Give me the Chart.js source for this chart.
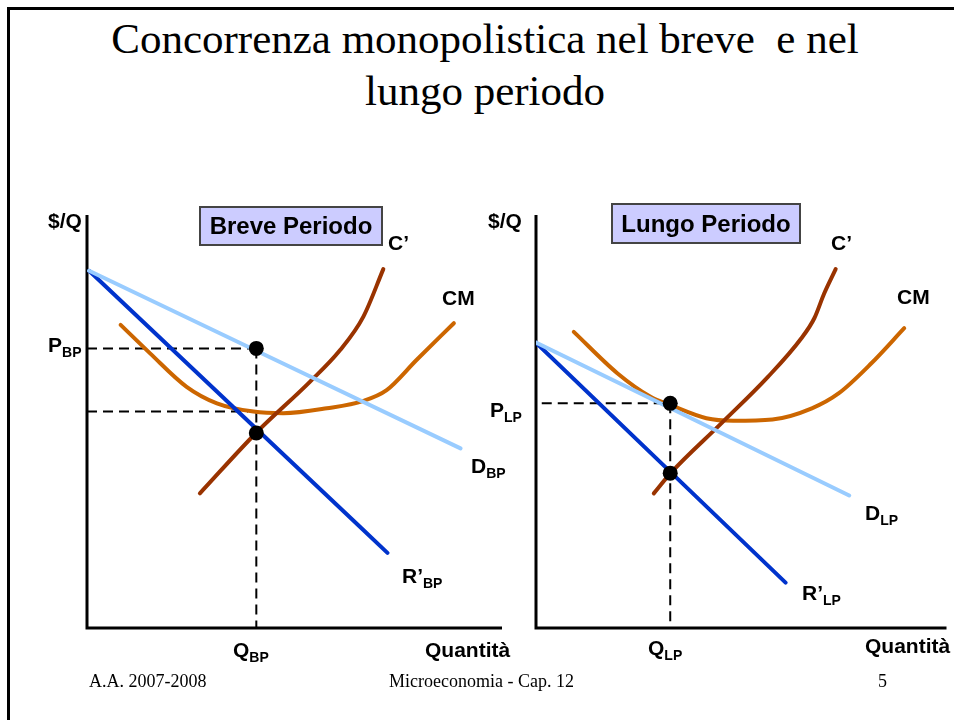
<!DOCTYPE html>
<html>
<head>
<meta charset="utf-8">
<script src="https://cdn.jsdelivr.net/npm/chart.js@4/dist/chart.umd.min.js"></script>
<style>
  html, body { margin: 0; padding: 0; background: #fff; }
  body { width: 954px; height: 720px; position: relative; overflow: hidden; }
  canvas { position: absolute; left: 0; top: 0; }
  .frame { position: absolute; left: 7px; top: 7px; width: 960px; height: 730px;
           border-left: 3px solid #000; border-top: 3px solid #000; }
  .t { position: absolute; line-height: 1; white-space: nowrap; color: #000;
       font-family: "Liberation Sans", Arial, sans-serif; font-weight: bold; font-size: 21px; }
  .t span { font-size: 14px; position: relative; top: 5px; }
  .s { position: absolute; line-height: 1; white-space: nowrap; color: #000;
       font-family: "Liberation Serif", "Times New Roman", serif; }
  .box { position: absolute; box-sizing: border-box; border: 2px solid #444; background: #ccccff;
         display: flex; align-items: center; justify-content: center; line-height: 1;
         font-family: "Liberation Sans", Arial, sans-serif; font-weight: bold; font-size: 24px; }
</style>
</head>
<body>
<div class="frame"></div>

<div class="s" style="left:0;top:17px;width:970px;text-align:center;font-size:43px;">Concorrenza monopolistica nel breve &nbsp;e nel</div>
<div class="s" style="left:0;top:69px;width:970px;text-align:center;font-size:43px;">lungo periodo</div>

<canvas id="breve" width="954" height="720"></canvas>
<canvas id="lungo" width="954" height="720"></canvas>

<!-- etichette breve periodo -->
<div class="t" style="left:48px;top:210px;">$/Q</div>
<div class="box" style="left:199px;top:206px;width:184px;height:40px;">Breve Periodo</div>
<div class="t" style="left:388px;top:232px;">C’</div>
<div class="t" style="left:442px;top:287px;">CM</div>
<div class="t" style="left:48px;top:334px;">P<span>BP</span></div>
<div class="t" style="left:471px;top:455px;">D<span>BP</span></div>
<div class="t" style="left:402px;top:565px;">R’<span>BP</span></div>
<div class="t" style="left:233px;top:639px;">Q<span>BP</span></div>
<div class="t" style="left:425px;top:639px;">Quantità</div>

<!-- etichette lungo periodo -->
<div class="t" style="left:488px;top:210px;">$/Q</div>
<div class="box" style="left:611px;top:203px;width:190px;height:41px;">Lungo Periodo</div>
<div class="t" style="left:831px;top:232px;">C’</div>
<div class="t" style="left:897px;top:286px;">CM</div>
<div class="t" style="left:490px;top:399px;">P<span>LP</span></div>
<div class="t" style="left:865px;top:502px;">D<span>LP</span></div>
<div class="t" style="left:802px;top:582px;">R’<span>LP</span></div>
<div class="t" style="left:648px;top:637px;">Q<span>LP</span></div>
<div class="t" style="left:865px;top:635px;">Quantità</div>

<div class="s" style="left:89px;top:672px;font-size:18px;">A.A. 2007-2008</div>
<div class="s" style="left:389px;top:672px;font-size:18px;">Microeconomia - Cap. 12</div>
<div class="s" style="left:878px;top:672px;font-size:18px;">5</div>

<script>
// Breve periodo (quantità, prezzo)
const domandaBP_q = [0.05, 9.0];
const domandaBP_p = [8.65, 4.35];
const ricavoBP_q = [0.05, 7.24];
const ricavoBP_p = [8.65, 1.82];
const costoMargBP_q = [2.72, 4.09, 5.37, 6.10, 6.66, 7.14];
const costoMargBP_p = [3.26, 4.74, 5.96, 6.73, 7.54, 8.69];
const costoMedioBP_q = [0.81, 1.52, 2.40, 3.13, 4.01, 4.73, 5.78, 6.66, 7.22, 7.94, 8.84];
const costoMedioBP_p = [7.34, 6.65, 5.84, 5.44, 5.24, 5.20, 5.32, 5.50, 5.76, 6.49, 7.38];
const Q_BP = 4.08;
const P_BP = 6.77;
const CM_BP = 5.24;
const CP_BP = 4.72;

// Lungo periodo
const domandaLP_q = [0.0, 7.63];
const domandaLP_p = [6.91, 3.21];
const ricavoLP_q = [0.0, 6.08];
const ricavoLP_p = [6.91, 1.10];
const costoMargLP_q = [2.87, 3.28, 4.52, 5.65, 6.46, 6.78, 7.02, 7.30];
const costoMargLP_p = [3.26, 3.75, 4.96, 6.08, 7.01, 7.50, 8.10, 8.69];
const costoMedioLP_q = [0.92, 1.98, 2.79, 3.27, 4.15, 4.80, 5.76, 6.72, 7.37, 8.17, 8.97];
const costoMedioLP_p = [7.17, 6.17, 5.60, 5.40, 5.08, 5.02, 5.05, 5.32, 5.68, 6.41, 7.26];
const Q_LP = 3.27;
const P_LP = 5.44;
const CP_LP = 3.75;

const punti = (qs, ps) => qs.map((q, i) => ({ x: q, y: ps[i] }));

const curva = (dati, colore) => ({
  data: dati, borderColor: colore, borderWidth: 4, pointRadius: 0,
  cubicInterpolationMode: 'monotone', borderCapStyle: 'round', fill: false
});
const tratteggio = (dati) => ({
  data: dati, borderColor: '#000', borderWidth: 2, borderDash: [10, 6],
  pointRadius: 0, fill: false
});
const pallini = (dati) => ({
  data: dati, showLine: false, pointRadius: 7.5, pointBackgroundColor: '#000',
  pointBorderColor: '#000', borderWidth: 0
});

// assi disegnati sul bordo dell'area del grafico
const assi = {
  id: 'assi',
  beforeDatasetsDraw(chart) {
    const { ctx, chartArea: a } = chart;
    ctx.save();
    ctx.strokeStyle = '#000';
    ctx.lineWidth = 3;
    ctx.beginPath();
    ctx.moveTo(a.left, a.top);
    ctx.lineTo(a.left, a.bottom);
    ctx.lineTo(a.right, a.bottom);
    ctx.stroke();
    ctx.restore();
  }
};

function creaGrafico(id, padding, datasets) {
  return new Chart(document.getElementById(id), {
    type: 'line',
    data: { datasets },
    options: {
      responsive: false,
      animation: false,
      layout: { padding },
      plugins: { legend: { display: false }, tooltip: { enabled: false } },
      scales: {
        x: { type: 'linear', min: 0, max: 10, display: false },
        y: { type: 'linear', min: 0, max: 10, display: false }
      }
    },
    plugins: [assi]
  });
}

// il primo dataset viene disegnato sopra agli altri
creaGrafico('breve', { left: 87, top: 215, right: 452, bottom: 92 }, [
  pallini([{ x: Q_BP, y: P_BP }, { x: Q_BP, y: CP_BP }]),
  curva(punti(domandaBP_q, domandaBP_p), '#99ccff'),
  curva(punti(ricavoBP_q, ricavoBP_p), '#0033cc'),
  curva(punti(costoMargBP_q, costoMargBP_p), '#993300'),
  curva(punti(costoMedioBP_q, costoMedioBP_p), '#cc6600'),
  tratteggio([{ x: 0, y: P_BP }, { x: Q_BP, y: P_BP }]),
  tratteggio([{ x: 0, y: CM_BP }, { x: Q_BP - 0.2, y: CM_BP }]),
  tratteggio([{ x: Q_BP, y: P_BP }, { x: Q_BP, y: 0 }])
]);

creaGrafico('lungo', { left: 536, top: 215, right: 4, bottom: 92 }, [
  pallini([{ x: Q_LP, y: P_LP }, { x: Q_LP, y: CP_LP }]),
  curva(punti(domandaLP_q, domandaLP_p), '#99ccff'),
  curva(punti(ricavoLP_q, ricavoLP_p), '#0033cc'),
  curva(punti(costoMargLP_q, costoMargLP_p), '#993300'),
  curva(punti(costoMedioLP_q, costoMedioLP_p), '#cc6600'),
  tratteggio([{ x: 0.14, y: P_LP }, { x: Q_LP, y: P_LP }]),
  tratteggio([{ x: Q_LP, y: P_LP }, { x: Q_LP, y: 0 }])
]);
</script>
</body>
</html>
